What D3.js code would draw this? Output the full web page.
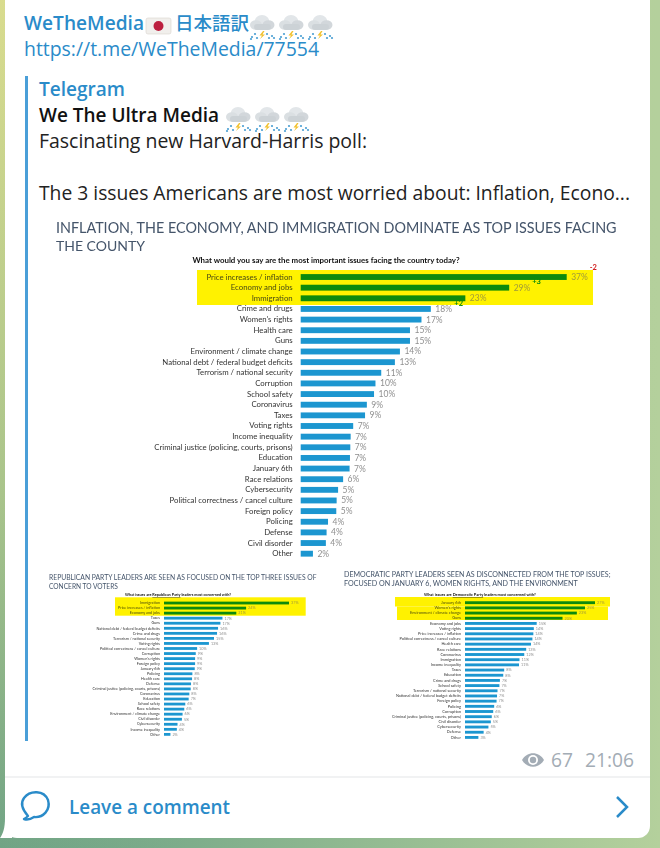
<!DOCTYPE html>
<html>
<head>
<meta charset="utf-8">
<script src="https://cdn.jsdelivr.net/npm/d3@7"></script>
<style>
  html, body { margin: 0; padding: 0; background: #7fae88; overflow: hidden; }
  svg { display: block; }
  .ui { font-family: "Open Sans", sans-serif; }
  .slide { font-family: Lato, sans-serif; }
  .domain { display: none; }
</style>
</head>
<body>
<svg id="chart"></svg>
<script>
// poll data
////////////////////////////////////////////////////////////////
const mainIssues = ['Price increases / inflation', 'Economy and jobs', 'Immigration', 'Crime and drugs', "Women's rights", 'Health care', 'Guns', 'Environment / climate change', 'National debt / federal budget deficits', 'Terrorism / national security', 'Corruption', 'School safety', 'Coronavirus', 'Taxes', 'Voting rights', 'Income inequality', 'Criminal justice (policing, courts, prisons)', 'Education', 'January 6th', 'Race relations', 'Cybersecurity', 'Political correctness / cancel culture', 'Foreign policy', 'Policing', 'Defense', 'Civil disorder', 'Other'];
const mainValues = [37, 29, 22.9, 18.1, 16.8, 15.2, 15.2, 13.8, 13.1, 11.2, 10.4, 10.2, 9.2, 8.95, 7.3, 6.95, 6.9, 6.85, 6.8, 5.9, 5.2, 5, 4.95, 3.8, 3.6, 3.5, 1.7];
const mainDeltas = ['-2', '+3', '+2'];

const repIssues = ['Immigration', 'Price increases / inflation', 'Economy and jobs', 'Taxes', 'Guns', 'National debt / federal budget deficits', 'Crime and drugs', 'Terrorism / national security', 'Voting rights', 'Political correctness / cancel culture', 'Corruption', "Women's rights", 'Foreign policy', 'January 6th', 'Policing', 'Health care', 'Defense', 'Criminal justice (policing, courts, prisons)', 'Coronavirus', 'Education', 'School safety', 'Race relations', 'Environment / climate change', 'Civil disorder', 'Cybersecurity', 'Income inequality', 'Other'];
const repValues = [37, 24.3, 21.4, 17.3, 16.7, 16, 15.7, 14.8, 13.3, 9.8, 9.4, 9.2, 9.2, 9.1, 8.4, 8.3, 8, 7.9, 7.5, 7.3, 6.3, 6, 5.5, 5.3, 4, 3.8, 1.9];

const demIssues = ['January 6th', "Women's rights", 'Environment / climate change', 'Guns', 'Economy and jobs', 'Voting rights', 'Price increases / inflation', 'Political correctness / cancel culture', 'Health care', 'Race relations', 'Coronavirus', 'Immigration', 'Income inequality', 'Taxes', 'Education', 'Crime and drugs', 'School safety', 'Terrorism / national security', 'National debt / federal budget deficits', 'Foreign policy', 'Policing', 'Corruption', 'Criminal justice (policing, courts, prisons)', 'Civil disorder', 'Cybersecurity', 'Defense', 'Other'];
const demValues = [27.2, 25.1, 23.4, 20.4, 15, 14.4, 14.3, 14.1, 13.8, 12.8, 12.4, 11.4, 11.3, 8.2, 8, 7.3, 7.2, 6.8, 6.7, 6.6, 6.1, 5.9, 5.6, 5.4, 4.9, 3.9, 2.8];

let width = 660
let height = 848

let svg = d3.select('#chart').attr('width', width).attr('height', height)
let defs = svg.append('defs')

// telegram wallpaper
////////////////////////////////////////////////////////////////
let wall = defs.append('linearGradient').attr('id', 'wall')
  .attr('x1', 0).attr('y1', 0).attr('x2', 0.25).attr('y2', 1)
wall.append('stop').attr('offset', '0%').attr('stop-color', '#d9dc8e')
wall.append('stop').attr('offset', '55%').attr('stop-color', '#a9c48b')
wall.append('stop').attr('offset', '100%').attr('stop-color', '#689f84')
let wallRight = defs.append('linearGradient').attr('id', 'wallRight')
wallRight.append('stop').attr('offset', '0%').attr('stop-color', '#b4d09c').attr('stop-opacity', 0)
wallRight.append('stop').attr('offset', '100%').attr('stop-color', '#b4d09c').attr('stop-opacity', 1)
svg.append('rect').attr('width', width).attr('height', height).attr('fill', 'url(#wall)')
svg.append('rect').attr('width', width).attr('height', height).attr('fill', 'url(#wallRight)')

defs.append('filter').attr('id', 'soft').append('feGaussianBlur').attr('stdDeviation', 0.3)
defs.append('filter').attr('id', 'softer').append('feGaussianBlur').attr('stdDeviation', 0.4)

// message bubble
////////////////////////////////////////////////////////////////
svg.append('rect').attr('x', 5).attr('y', -12).attr('width', 645).attr('height', 850).attr('rx', 12).attr('fill', '#fff')
svg.append('path').attr('d', 'M5 818 C5 828 3 834 0 838 L12 838 L12 818 Z').attr('fill', '#fff')
svg.append('rect').attr('x', 5).attr('y', 776.5).attr('width', 645).attr('height', 1).attr('fill', '#e3e6e8')
svg.append('rect').attr('x', 25).attr('y', 76).attr('width', 3).attr('height', 665).attr('fill', '#4a9fd8')

let ui = svg.append('g').attr('class', 'ui')
let blue = '#2a8bc9'

let uiText = (x, y, str, size, fill, weight, len) => {
  let t = ui.append('text').attr('x', x).attr('y', y).attr('font-size', size)
    .attr('fill', fill).attr('font-weight', weight || 400).text(str)
  if (len) t.attr('textLength', len).attr('lengthAdjust', 'spacingAndGlyphs')
  return t
}

uiText(24, 30, 'WeTheMedia', 19.5, blue, 600, 120)
uiText(175, 30, '日本語訳', 18.5, blue, 500).attr('font-family', '"Noto Sans CJK JP"')
uiText(24, 56, 'https://t.me/WeTheMedia/77554', 20, blue, 400, 295)
uiText(39, 96, 'Telegram', 20, blue, 600, 86)
uiText(39, 122, 'We The Ultra Media', 20, '#111', 600, 180)
uiText(39, 148, 'Fascinating new Harvard-Harris poll:', 20, '#222', 400, 328)
uiText(39, 200, 'The 3 issues Americans are most worried about: Inflation, Econo...', 20, '#222', 400, 591)

// japanese flag
svg.append('rect').attr('x', 146).attr('y', 18).attr('width', 25).attr('height', 16).attr('rx', 2).attr('fill', '#f1efec').attr('stroke', '#d8d4cf').attr('stroke-width', 0.6)
svg.append('circle').attr('cx', 158.5).attr('cy', 26).attr('r', 5).attr('fill', '#bc1f3f')

// thunder cloud emoji, drawn since there is no emoji font
let cloud = (x, y) => {
  let g = svg.append('g').attr('transform', `translate(${x},${y})`)
  g.append('ellipse').attr('cx', 13).attr('cy', 10).attr('rx', 7.5).attr('ry', 7).attr('fill', '#e2e6e9')
  g.append('ellipse').attr('cx', 7).attr('cy', 13).attr('rx', 6).attr('ry', 4.8).attr('fill', '#dadfe2')
  g.append('ellipse').attr('cx', 19.5).attr('cy', 13).attr('rx', 6).attr('ry', 4.8).attr('fill', '#d2d7db')
  g.append('rect').attr('x', 5).attr('y', 12).attr('width', 17).attr('height', 6).attr('rx', 3).attr('fill', '#ccd2d6')
  g.append('path').attr('d', 'M14 19 L10.5 23.5 L13 23.5 L11 27 L16 22.5 L13.5 22.5 L15.5 19 Z').attr('fill', '#f2c230')
  ;[[3, 25], [6, 22], [8, 26], [18, 22], [20, 26], [23, 24], [25, 26], [2, 27]].forEach(d => {
    g.append('circle').attr('cx', d[0]).attr('cy', d[1]).attr('r', 1.1).attr('fill', '#4b9fd3')
  })
}
;[249, 278, 307].forEach(x => cloud(x, 12))
;[225, 254, 283].forEach(x => cloud(x, 104))

// footer
uiText(551, 767, '67', 20, '#a3acb5', 400, 22)
uiText(585, 767, '21:06', 20, '#a3acb5', 400, 49)
svg.append('path').attr('d', 'M522 760 C527 751 539 751 544 760 C539 769 527 769 522 760 Z').attr('fill', '#a3acb5')
svg.append('circle').attr('cx', 533).attr('cy', 760).attr('r', 5).attr('fill', '#fff')
svg.append('circle').attr('cx', 533).attr('cy', 760).attr('r', 3.2).attr('fill', '#a3acb5')
svg.append('path').attr('d', 'M28 816 C21 808 21 802 24 798 C30 790 44 790 48 800 C51 810 43 818 34 817 C31 819 27 820 24 819 C26 818 27 817 28 816 Z')
  .attr('fill', 'none').attr('stroke', blue).attr('stroke-width', 2.4).attr('stroke-linejoin', 'round')
uiText(69, 814, 'Leave a comment', 20, blue, 600, 161)
svg.append('path').attr('d', 'M617 797 L627 807 L617 817').attr('fill', 'none').attr('stroke', blue).attr('stroke-width', 2.5)

// the slide picture
////////////////////////////////////////////////////////////////

// scale the font so a text comes out at the width it has in the picture
let fitWidth = (sel, target) => {
  let size = +sel.attr('font-size')
  sel.attr('font-size', size * target / sel.node().getComputedTextLength())
}

let drawPanel = (p) => {
  let g = svg.append('g').attr('class', 'slide').attr('filter', p.filter)

  let xScale = d3.scaleLinear().domain([0, p.maxValue]).range([p.left, p.right])
  let yScale = d3.scaleBand().domain(p.issues).range([p.top, p.bottom])
    .paddingInner(0.45).paddingOuter(0.225)

  p.yellow.forEach(r => {
    g.append('rect').attr('x', r[0]).attr('y', r[1]).attr('width', r[2] - r[0]).attr('height', r[3] - r[1]).attr('fill', '#fff200')
  })

  p.titles.forEach((t, i) => {
    let title = g.append('text').attr('x', p.titleX).attr('y', p.titleY + i * p.titleGap)
      .attr('font-size', p.titleSize).attr('fill', '#44546a').text(t)
    fitWidth(title, p.titleLens[i])
  })

  let q = g.append('text').attr('x', p.questionX).attr('y', p.questionY).attr('text-anchor', 'middle')
    .attr('font-size', p.questionSize).attr('font-weight', 700).attr('fill', '#111')
  p.question.forEach(s => {
    q.append('tspan').attr('text-decoration', s.under ? 'underline' : 'none').text(s.text)
  })
  fitWidth(q, p.questionLen)

  g.selectAll('rect.bar')
    .data(p.values)
    .enter()
    .append('rect')
    .attr('class', 'bar')
    .attr('x', xScale(0))
    .attr('y', (d, i) => yScale(p.issues[i]))
    .attr('width', d => xScale(d) - xScale(0))
    .attr('height', yScale.bandwidth())
    .attr('fill', (d, i) => i < p.highlight ? '#0a8a0a' : '#1a96d0')

  g.selectAll('text.value')
    .data(p.values)
    .enter()
    .append('text')
    .attr('class', 'value')
    .attr('x', d => xScale(d) + p.valueGap)
    .attr('y', (d, i) => yScale(p.issues[i]) + yScale.bandwidth() / 2)
    .attr('dy', '0.35em')
    .attr('font-size', p.valueSize)
    .attr('fill', (d, i) => i < p.highlight ? '#a09a3a' : '#8f8f8f')
    .text(d => Math.round(d) + '%')

  let yAxis = d3.axisLeft(yScale).tickSize(0).tickPadding(p.labelGap)
  g.append('g')
    .attr('transform', `translate(${p.left}, 0)`)
    .call(yAxis)
    .selectAll('text')
    .attr('font-family', 'Lato, sans-serif')
    .attr('font-size', p.labelSize)
    .attr('fill', (d, i) => i < p.highlight ? '#4a4a10' : '#333')

  return { g, xScale, yScale }
}

let big = drawPanel({
  filter: 'url(#soft)', issues: mainIssues, values: mainValues, highlight: 3,
  maxValue: 37, left: 300.7, right: 566.7, top: 271.7, bottom: 559,
  yellow: [[197, 270, 593, 305]],
  titles: ['INFLATION, THE ECONOMY, AND IMMIGRATION DOMINATE AS TOP ISSUES FACING', 'THE COUNTY'],
  titleX: 56, titleY: 233, titleGap: 17.5, titleSize: 15.5, titleLens: [561, 89],
  question: [{ text: 'What would you say are the most important issues facing the country today?' }],
  questionX: 326, questionY: 263, questionSize: 8.5, questionLen: 268,
  valueGap: 4.5, valueSize: 8.5, labelGap: 8, labelSize: 7.8
})

// change since last poll, in red and green next to the top bars
;[[big.xScale(37) + 23, big.yScale(mainIssues[0]) - 4, '#d01818'],
  [big.xScale(29) + 23, big.yScale(mainIssues[1]) - 1, '#0a8a0a'],
  [big.xScale(22.9) - 11, big.yScale(mainIssues[2]) + 10.5, '#0a8a0a']].forEach((d, i) => {
  big.g.append('text').attr('x', d[0]).attr('y', d[1]).attr('font-size', 7.5).attr('font-weight', 700).attr('fill', d[2]).text(mainDeltas[i])
})

drawPanel({
  filter: 'url(#softer)', issues: repIssues, values: repValues, highlight: 3,
  maxValue: 37, left: 164, right: 289, top: 600.5, bottom: 736.9,
  yellow: [[115, 597.3, 305.7, 615.7]],
  titles: ['REPUBLICAN PARTY LEADERS ARE SEEN AS FOCUSED ON THE TOP THREE ISSUES OF', 'CONCERN TO VOTERS'],
  titleX: 49, titleY: 580, titleGap: 8.5, titleSize: 7.4, titleLens: [268, 69],
  question: [{ text: 'What issues are ' }, { text: 'Republican Party', under: true }, { text: ' leaders most concerned with?' }],
  questionX: 178, questionY: 596, questionSize: 4.2, questionLen: 106,
  valueGap: 2, valueSize: 3.8, labelGap: 4, labelSize: 3.8
})

drawPanel({
  filter: 'url(#softer)', issues: demIssues, values: demValues, highlight: 4,
  maxValue: 27.2, left: 465, right: 595, top: 600.1, bottom: 740,
  yellow: [[395, 597, 610, 606.5], [397, 606.5, 608, 620]],
  titles: ['DEMOCRATIC PARTY LEADERS SEEN AS DISCONNECTED FROM THE TOP ISSUES;', 'FOCUSED ON JANUARY 6, WOMEN RIGHTS, AND THE ENVIRONMENT'],
  titleX: 344, titleY: 577, titleGap: 8.7, titleSize: 7.6, titleLens: [267, 234],
  question: [{ text: 'What issues are ' }, { text: 'Democratic Party', under: true }, { text: ' leaders most concerned with?' }],
  questionX: 480, questionY: 596, questionSize: 4.2, questionLen: 112,
  valueGap: 2, valueSize: 3.8, labelGap: 4, labelSize: 3.9
})
</script>
</body>
</html>
